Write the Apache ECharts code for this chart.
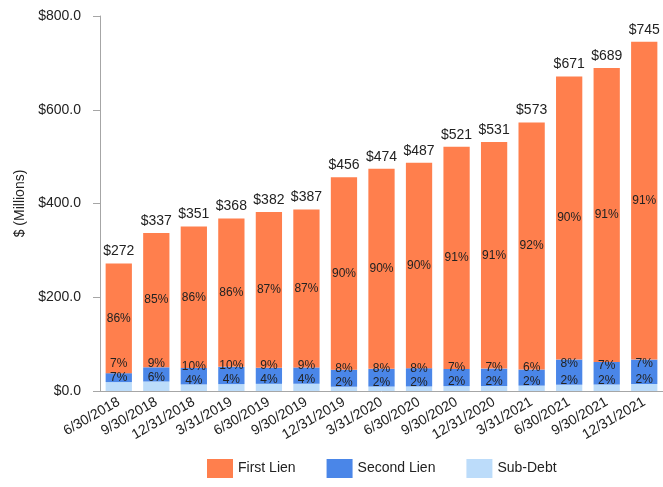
<!DOCTYPE html>
<html>
<head>
<meta charset="utf-8">
<script src="https://cdn.jsdelivr.net/npm/echarts@6/dist/echarts.min.js"></script>
<style>
  html, body { margin: 0; padding: 0; background: #ffffff; }
  #chart { width: 663px; height: 487px; }
</style>
</head>
<body>
<div id="chart"></div>
<script>
// Quarter-end dates
const categories = ['6/30/2018', '9/30/2018', '12/31/2018', '3/31/2019', '6/30/2019', '9/30/2019',
  '12/31/2019', '3/31/2020', '6/30/2020', '9/30/2020', '12/31/2020', '3/31/2021',
  '6/30/2021', '9/30/2021', '12/31/2021'];

// Portfolio totals, $ millions
const totals = [272, 337, 351, 368, 382, 387, 456, 474, 487, 521, 531, 573, 671, 689, 745];

// Share of each total by lien position, %
const firstLienPct  = [86, 85, 86, 86, 87, 87, 90, 90, 90, 91, 91, 92, 90, 91, 91];
const secondLienPct = [7, 9, 10, 10, 9, 9, 8, 8, 8, 7, 7, 6, 8, 7, 7];
const subDebtPct    = [7, 6, 4, 4, 4, 4, 2, 2, 2, 2, 2, 2, 2, 2, 2];

// Y axis ticks
const yMin = 0, yMax = 800, yStep = 200;

const FONT = "'Liberation Sans', Arial, Helvetica, sans-serif";
const TEXT = '#222222';
const AXIS = '#a6a6a6';

const amounts = pct => pct.map((p, i) => +(totals[i] * p / 100).toFixed(2));

const chart = echarts.init(document.getElementById('chart'));

chart.setOption({
  animation: false,
  backgroundColor: '#ffffff',
  textStyle: { fontFamily: FONT },
  grid: { left: 100, right: 0, top: 16, bottom: 96 },
  legend: {
    bottom: 4,
    left: 202,
    icon: 'rect',
    itemWidth: 26,
    itemHeight: 19,
    itemGap: 31,
    textStyle: { fontFamily: FONT, fontSize: 14, color: TEXT },
    data: ['First Lien', 'Second Lien', 'Sub-Debt']
  },
  xAxis: {
    type: 'category',
    data: categories,
    axisLine: { lineStyle: { color: AXIS, width: 1 } },
    axisTick: { alignWithLabel: true, length: 7, lineStyle: { color: AXIS } },
    axisLabel: {
      interval: 0, rotate: 30, margin: 10,
      fontFamily: FONT, fontSize: 14, color: TEXT
    }
  },
  yAxis: {
    type: 'value',
    min: yMin, max: yMax, interval: yStep,
    name: '$ (Millions)',
    nameLocation: 'middle',
    nameGap: 66,
    nameTextStyle: { fontFamily: FONT, fontSize: 14, color: TEXT },
    axisLine: { show: true, lineStyle: { color: AXIS, width: 1 } },
    axisTick: { show: true, length: 7, lineStyle: { color: AXIS } },
    splitLine: { show: false },
    axisLabel: {
      margin: 19, fontFamily: FONT, fontSize: 14, color: TEXT,
      formatter: v => '$' + v.toFixed(1)
    }
  },
  series: [
    {
      name: 'Sub-Debt', type: 'bar', stack: 'total', barCategoryGap: '30%',
      itemStyle: { color: '#bcdcfa' },
      data: amounts(subDebtPct),
      label: {
        show: true, position: 'top', distance: -2,
        fontFamily: FONT, fontSize: 12, color: TEXT,
        formatter: p => subDebtPct[p.dataIndex] + '%'
      }
    },
    {
      name: 'Second Lien', type: 'bar', stack: 'total',
      itemStyle: { color: '#4a86e8' },
      data: amounts(secondLienPct),
      label: {
        show: true, position: 'top',
        fontFamily: FONT, fontSize: 12, color: TEXT,
        formatter: p => secondLienPct[p.dataIndex] + '%'
      },
      // keep the label clear of the sub-debt label below it
      labelLayout: p => ({
        x: p.rect.x + p.rect.width / 2,
        y: Math.min(p.rect.y + 4, p.rect.y + p.rect.height - 18),
        align: 'center',
        verticalAlign: 'middle'
      })
    },
    {
      name: 'First Lien', type: 'bar', stack: 'total',
      itemStyle: { color: '#ff7f4d' },
      data: amounts(firstLienPct),
      label: {
        show: true, position: 'inside',
        fontFamily: FONT, fontSize: 12, color: TEXT,
        formatter: p => firstLienPct[p.dataIndex] + '%'
      }
    },
    {
      // zero-height cap that carries the total above each stack
      name: 'Total', type: 'bar', stack: 'total',
      itemStyle: { color: 'transparent' },
      data: totals.map(() => 0),
      label: {
        show: true, position: 'top', distance: 5,
        fontFamily: FONT, fontSize: 14, color: TEXT,
        formatter: p => '$' + totals[p.dataIndex]
      }
    }
  ]
});
</script>
</body>
</html>
